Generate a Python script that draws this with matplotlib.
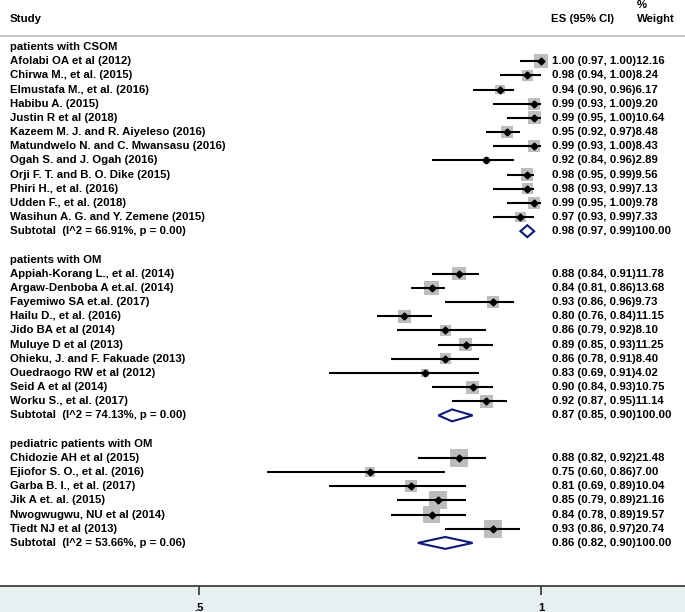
import numpy as np
import matplotlib
matplotlib.use("Agg")
from matplotlib import pyplot as plt
from matplotlib.patches import Polygon

# subgroup names
groups = ["patients with CSOM", "patients with OM", "pediatric patients with OM"]

csom_studies = ["Afolabi OA et al (2012)", "Chirwa M., et al. (2015)", "Elmustafa M., et al. (2016)",
                "Habibu A. (2015)", "Justin R et al (2018)", "Kazeem M. J. and R. Aiyeleso (2016)",
                "Matundwelo N. and C. Mwansasu (2016)", "Ogah S. and J. Ogah (2016)",
                "Orji F. T. and B. O. Dike (2015)", "Phiri H., et al. (2016)", "Udden F., et al. (2018)",
                "Wasihun A. G. and Y. Zemene (2015)"]
csom_es = [1.00, 0.98, 0.94, 0.99, 0.99, 0.95, 0.99, 0.92, 0.98, 0.98, 0.99, 0.97]
csom_lo = [0.97, 0.94, 0.90, 0.93, 0.95, 0.92, 0.93, 0.84, 0.95, 0.93, 0.95, 0.93]
csom_hi = [1.00, 1.00, 0.96, 1.00, 1.00, 0.97, 1.00, 0.96, 0.99, 0.99, 1.00, 0.99]
csom_w = [12.16, 8.24, 6.17, 9.20, 10.64, 8.48, 8.43, 2.89, 9.56, 7.13, 9.78, 7.33]

om_studies = ["Appiah-Korang L., et al. (2014)", "Argaw-Denboba A et.al. (2014)", "Fayemiwo SA et.al. (2017)",
              "Hailu D., et al. (2016)", "Jido BA et al (2014)", "Muluye D et al (2013)",
              "Ohieku, J. and F. Fakuade (2013)", "Ouedraogo RW et al (2012)", "Seid A et al (2014)",
              "Worku S., et al. (2017)"]
om_es = [0.88, 0.84, 0.93, 0.80, 0.86, 0.89, 0.86, 0.83, 0.90, 0.92]
om_lo = [0.84, 0.81, 0.86, 0.76, 0.79, 0.85, 0.78, 0.69, 0.84, 0.87]
om_hi = [0.91, 0.86, 0.96, 0.84, 0.92, 0.93, 0.91, 0.91, 0.93, 0.95]
om_w = [11.78, 13.68, 9.73, 11.15, 8.10, 11.25, 8.40, 4.02, 10.75, 11.14]

ped_studies = ["Chidozie AH et al (2015)", "Ejiofor S. O., et al. (2016)", "Garba B. I., et al. (2017)",
               "Jik A et. al. (2015)", "Nwogwugwu, NU et al (2014)", "Tiedt NJ et al (2013)"]
ped_es = [0.88, 0.75, 0.81, 0.85, 0.84, 0.93]
ped_lo = [0.82, 0.60, 0.69, 0.79, 0.78, 0.86]
ped_hi = [0.92, 0.86, 0.89, 0.89, 0.89, 0.97]
ped_w = [21.48, 7.00, 10.04, 21.16, 19.57, 20.74]

# subtotals: I^2, p, ES, lower, upper
sub_i2 = [66.91, 74.13, 53.66]
sub_p = [0.00, 0.00, 0.06]
sub_es = [0.98, 0.87, 0.86]
sub_lo = [0.97, 0.85, 0.82]
sub_hi = [0.99, 0.90, 0.90]

xticks = [0.5, 1]
xticklabels = [".5", "1"]

plt.rcParams['font.family'] = ['Liberation Sans', 'DejaVu Sans']
plt.rcParams['font.weight'] = 'bold'
fs = 8.2

fig = plt.figure(figsize=(6.85, 6.12), dpi=100)
fig.patch.set_facecolor('#e8f0f2')
ax = fig.add_axes([0, 26 / 612, 1, 586 / 612])
ax.set_facecolor('white')

ax.set_xlim(0.2091, 1.2105)
ax.set_ylim(38.04, -3.317)

tr = ax.get_yaxis_transform()
navy = '#0d1a7a'

all_data = [(csom_studies, csom_es, csom_lo, csom_hi, csom_w),
            (om_studies, om_es, om_lo, om_hi, om_w),
            (ped_studies, ped_es, ped_lo, ped_hi, ped_w)]

row = 0
for g in range(3):
    studies, es, lo, hi, w = all_data[g]
    ax.text(10 / 685, row, groups[g], transform=tr, fontsize=fs, fontweight='bold', va='center')
    rows = np.arange(len(studies)) + row + 1
    ax.scatter(es, rows, s=np.array(w) * 8.0, marker='s', color='#bdbdbd', zorder=2, linewidths=0)
    ax.hlines(rows, lo, hi, color='black', linewidth=1.5, zorder=3)
    ax.plot(es, rows, 'D', color='black', markersize=3.5, zorder=4)
    for i in range(len(studies)):
        ax.text(10 / 685, rows[i], studies[i], transform=tr, fontsize=fs, fontweight='bold', va='center')
        ax.text(552 / 685, rows[i], "%.2f (%.2f, %.2f)%.2f" % (es[i], lo[i], hi[i], w[i]),
                transform=tr, fontsize=fs, fontweight='bold', va='center')
    r = row + len(studies) + 1
    d = Polygon([(sub_lo[g], r), (sub_es[g], r - 0.42), (sub_hi[g], r), (sub_es[g], r + 0.42)],
                closed=True, facecolor='white', edgecolor=navy, linewidth=1.5, zorder=3)
    ax.add_patch(d)
    ax.text(10 / 685, r, "Subtotal  (I^2 = %.2f%%, p = %.2f)" % (sub_i2[g], sub_p[g]),
            transform=tr, fontsize=fs, fontweight='bold', va='center')
    ax.text(552 / 685, r, "%.2f (%.2f, %.2f)100.00" % (sub_es[g], sub_lo[g], sub_hi[g]),
            transform=tr, fontsize=fs, fontweight='bold', va='center')
    row = r + 2

# header
ax.text(10 / 685, -1.98, "Study", transform=tr, fontsize=fs, fontweight='bold', va='center')
ax.text(551 / 685, -1.98, "ES (95% CI)", transform=tr, fontsize=fs, fontweight='bold', va='center')
ax.text(642 / 685, -2.95, "%", transform=tr, fontsize=fs, fontweight='bold', va='center', ha='center')
ax.text(637 / 685, -1.98, "Weight", transform=tr, fontsize=fs, fontweight='bold', va='center')
ax.axhline(-0.78, color='#c8c8c8', linewidth=1.5)

# axis
for s in ['top', 'left', 'right']:
    ax.spines[s].set_visible(False)
ax.spines['bottom'].set_color('#333333')
ax.spines['bottom'].set_linewidth(1.2)
ax.set_yticks([])
ax.set_xticks(xticks)
ax.set_xticklabels(xticklabels, fontsize=fs, fontweight='bold')
ax.tick_params(axis='x', direction='out', length=6.5, width=1.2, color='#333333', pad=6)

plt.savefig("out.png", dpi=100, facecolor=fig.get_facecolor())
